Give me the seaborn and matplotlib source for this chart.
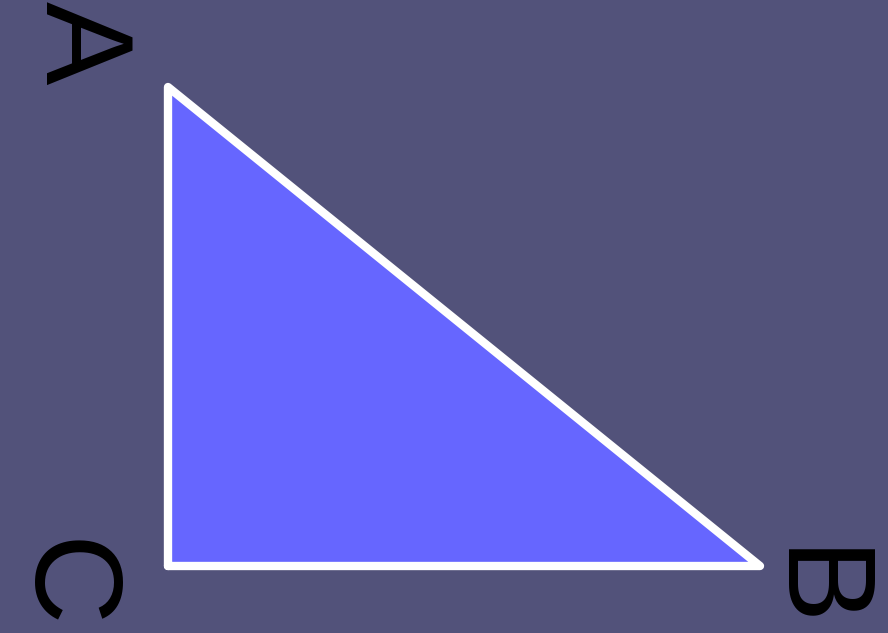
import numpy as np
import pandas as pd
import seaborn as sns
import matplotlib.pyplot as plt

# vertices of the right triangle (C is the right angle)
vertices = ["C", "A", "B"]
xs = [0.0, 0.0, 5.92]
ys = [0.0, 4.79, 0.0]

# label positions and text
label_text = ["A", "C", "B"]
label_x = [-0.90, -1.07, 6.42]
label_y = [5.23, -0.18, -0.24]

BG = "#52527a"
FILL = "#6666ff"

sns.set_theme(style="white")
plt.rcParams["font.family"] = ["Liberation Sans", "DejaVu Sans"]

fig = plt.figure(figsize=(8.88, 6.33), dpi=100)
fig.patch.set_facecolor(BG)
ax = fig.add_axes([0, 0, 1, 1])
ax.set_facecolor(BG)

df = pd.DataFrame({"x": xs + xs[:1], "y": ys + ys[:1]})
ax.fill(df["x"], df["y"], color=FILL, zorder=2)
sns.lineplot(data=df, x="x", y="y", sort=False, color="white", linewidth=6,
             estimator=None, ax=ax, zorder=3)

for t, x, y in zip(label_text, label_x, label_y):
    ax.text(x, y, t, rotation=-90, ha="center", va="center",
            fontsize=90, color="black", zorder=4)

ax.set_xlim(-1.68, 7.20)
ax.set_ylim(-0.67, 5.66)
ax.set_axis_off()

fig.savefig("out.png", dpi=100, facecolor=BG)
